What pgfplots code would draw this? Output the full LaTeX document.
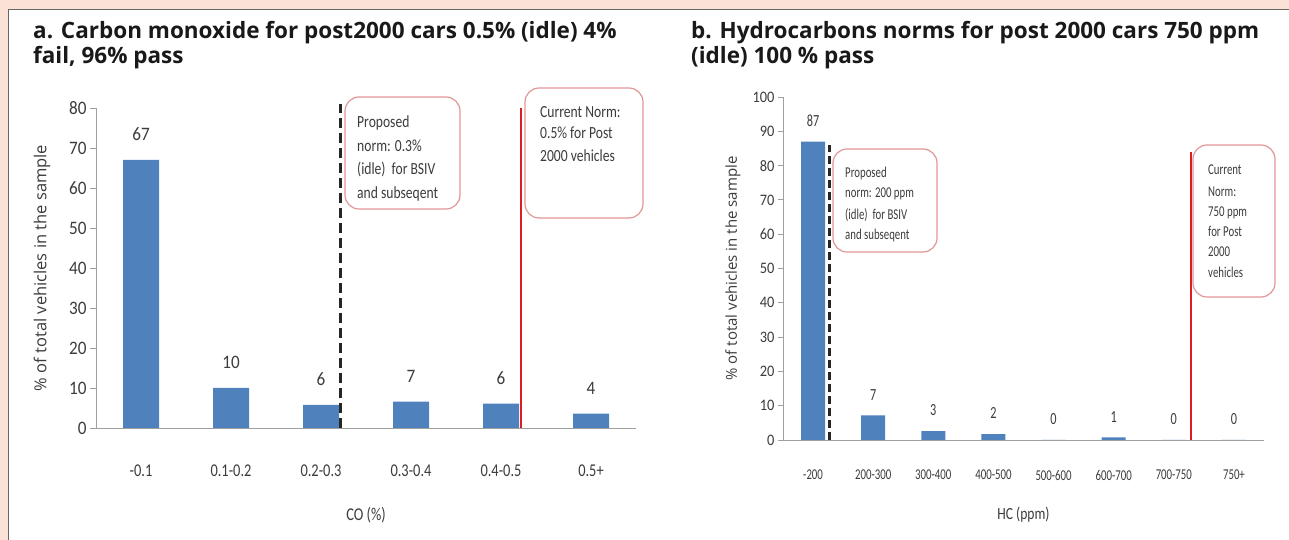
\documentclass[border=0pt]{standalone}
\usepackage{fontspec}
\usepackage{pgfplots}
\pgfplotsset{compat=1.18}
\setmainfont{Open Sans}
\newfontfamily\cA[FakeStretch=0.8]{Carlito}
\newfontfamily\cN[FakeStretch=0.9]{Carlito}
\newfontfamily\cB[FakeStretch=0.72]{Carlito}
\definecolor{peach}{RGB}{250,226,214}
\definecolor{barblue}{RGB}{79,129,189}
\definecolor{boxpink}{RGB}{226,150,150}
\definecolor{normred}{RGB}{220,30,35}
\definecolor{axgray}{RGB}{160,160,160}
\definecolor{txtgray}{RGB}{60,60,60}
\begin{document}
\begin{tikzpicture}[x=1pt,y=1pt]
\useasboundingbox (0,0) rectangle (1289,540);
\fill[white] (0,0) rectangle (1289,540);
\fill[peach] (0,531) rectangle (1289,540);
\fill[peach] (0,0) rectangle (8,540);
\draw[black!60, line width=1.5pt] (8.5,0) -- (8.5,530.5) -- (1289,530.5);

\tikzset{ttl/.style={anchor=base west, inner sep=0pt, font=\fontsize{22.5}{26}\selectfont\bfseries, text=black!90}}
\node[ttl] at (33,501) {a. Carbon monoxide for post2000 cars 0.5\% (idle) 4\%};
\node[ttl] at (33,476) {fail, 96\% pass};
\node[ttl] at (691,501) {b. Hydrocarbons norms for post 2000 cars 750 ppm};
\node[ttl] at (691,476) {(idle) 100 \% pass};

% ---------- panel a ----------
\begin{axis}[at={(96pt,112pt)}, anchor=south west, scale only axis,
  width=540pt, height=320pt, clip=false,
  xmin=-0.5, xmax=5.5, ymin=0, ymax=80,
  ytick={0,10,...,80}, xtick={0,...,5},
  xticklabels={-0.1,0.1-0.2,0.2-0.3,0.3-0.4,0.4-0.5,0.5+},
  axis lines=left, axis line style={-, axgray, line width=0.8pt},
  y tick style={axgray, line width=0.8pt}, x tick style={draw=none},
  major tick length=6pt, tick align=outside,
  /pgf/number format/assume math mode=true,
  yticklabel style={font=\cN\fontsize{19}{20}\selectfont, text=txtgray},
  xticklabel style={font=\cA\fontsize{18}{20}\selectfont, text=txtgray, anchor=center, yshift=-37pt},
  xlabel={CO (\%)},
  xlabel style={font=\cA\fontsize{18}{20}\selectfont, text=txtgray, at={(axis description cs:0.5,0)}, anchor=center, yshift=-87pt},
  ylabel={\% of total vehicles in the sample},
  ylabel style={font=\fontsize{16.5}{20}\selectfont, text=txtgray, at={(axis description cs:-0.1,0.5)}, anchor=center},
]
\addplot[ybar, bar width=36pt, fill=barblue, draw=none, point meta=y,
  nodes near coords={\pgfmathprintnumber[fixed,precision=0]{\pgfplotspointmeta}},
  every node near coord/.append style={font=\cN\fontsize{19}{20}\selectfont, text=txtgray, inner sep=0pt, yshift=19pt}]
  coordinates {(0,67) (1,10) (2,5.8) (3,6.6) (4,6.1) (5,3.6)};
\addplot[black!85, line width=2.8pt, dash pattern=on 10pt off 5pt] coordinates {(2.22,0) (2.22,81)};
\addplot[normred, line width=2.5pt] coordinates {(4.22,0) (4.22,80)};
\end{axis}

% ---------- panel b ----------
\begin{axis}[at={(783pt,100pt)}, anchor=south west, scale only axis,
  width=481pt, height=343pt, clip=false,
  xmin=-0.5, xmax=7.5, ymin=0, ymax=100,
  ytick={0,10,...,100}, xtick={0,...,7},
  xticklabels={-200,200-300,300-400,400-500,500-600,600-700,700-750,750+},
  axis lines=left, axis line style={-, axgray, line width=0.8pt},
  y tick style={axgray, line width=0.8pt}, x tick style={draw=none},
  major tick length=5pt, tick align=outside,
  /pgf/number format/assume math mode=true,
  yticklabel style={font=\cN\fontsize{16}{18}\selectfont, text=txtgray},
  xticklabel style={font=\cB\fontsize{15}{18}\selectfont, text=txtgray, anchor=center, yshift=-30pt},
  xlabel={HC (ppm)},
  xlabel style={font=\cA\fontsize{17}{20}\selectfont, text=txtgray, at={(axis description cs:0.5,0)}, anchor=center, yshift=-75pt},
  ylabel={\% of total vehicles in the sample},
  ylabel style={font=\fontsize{15}{18}\selectfont, text=txtgray, at={(axis description cs:-0.104,0.5)}, anchor=center},
]
\addplot[ybar, bar width=24pt, fill=barblue, draw=none, point meta=y,
  nodes near coords={\pgfmathprintnumber[fixed,precision=0]{\pgfplotspointmeta}},
  every node near coord/.append style={font=\cB\fontsize{17}{20}\selectfont, text=txtgray, inner sep=0pt, yshift=15pt}]
  coordinates {(0,87) (1,7.2) (2,2.6) (3,1.7) (4,0) (5,0.8) (6,0) (7,0)};
\addplot[black!85, line width=2.6pt, dash pattern=on 8pt off 4pt] coordinates {(0.27,0) (0.27,86)};
\addplot[normred, line width=2.2pt] coordinates {(6.28,0) (6.28,84)};
\end{axis}

% ---------- annotation boxes ----------
\tikzset{bx/.style={boxpink, line width=1.2pt, rounded corners=14pt, fill=white},
         ta/.style={anchor=base west, inner sep=0pt, font=\cA\fontsize{17}{20}\selectfont, text=txtgray},
         tb/.style={anchor=base west, inner sep=0pt, font=\cB\fontsize{15}{18}\selectfont, text=txtgray}}
\draw[bx] (345,331) rectangle (460,443);
\node[ta] at (357,412) {Proposed};
\node[ta] at (357,388) {norm: 0.3\%};
\node[ta] at (357,365) {(idle)\ \ for BSIV};
\node[ta] at (357,341) {and subseqent};

\draw[bx] (525,322) rectangle (643,452);
\node[ta] at (540,422) {Current Norm:};
\node[ta] at (540,401) {0.5\% for Post};
\node[ta] at (540,378) {2000 vehicles};

\draw[bx] (833,288) rectangle (937,391);
\node[tb] at (845,362.5) {Proposed};
\node[tb] at (845,342.5) {norm: 200 ppm};
\node[tb] at (845,320.5) {(idle)\ \ for BSIV};
\node[tb] at (845,300.5) {and subseqent};

\draw[bx] (1193,243) rectangle (1275,395);
\node[tb] at (1208,365.5) {Current};
\node[tb] at (1208,343.5) {Norm:};
\node[tb] at (1208,323.5) {750 ppm};
\node[tb] at (1208,303.5) {for Post};
\node[tb] at (1208,283.5) {2000};
\node[tb] at (1208,262.5) {vehicles};
\end{tikzpicture}
\end{document}
